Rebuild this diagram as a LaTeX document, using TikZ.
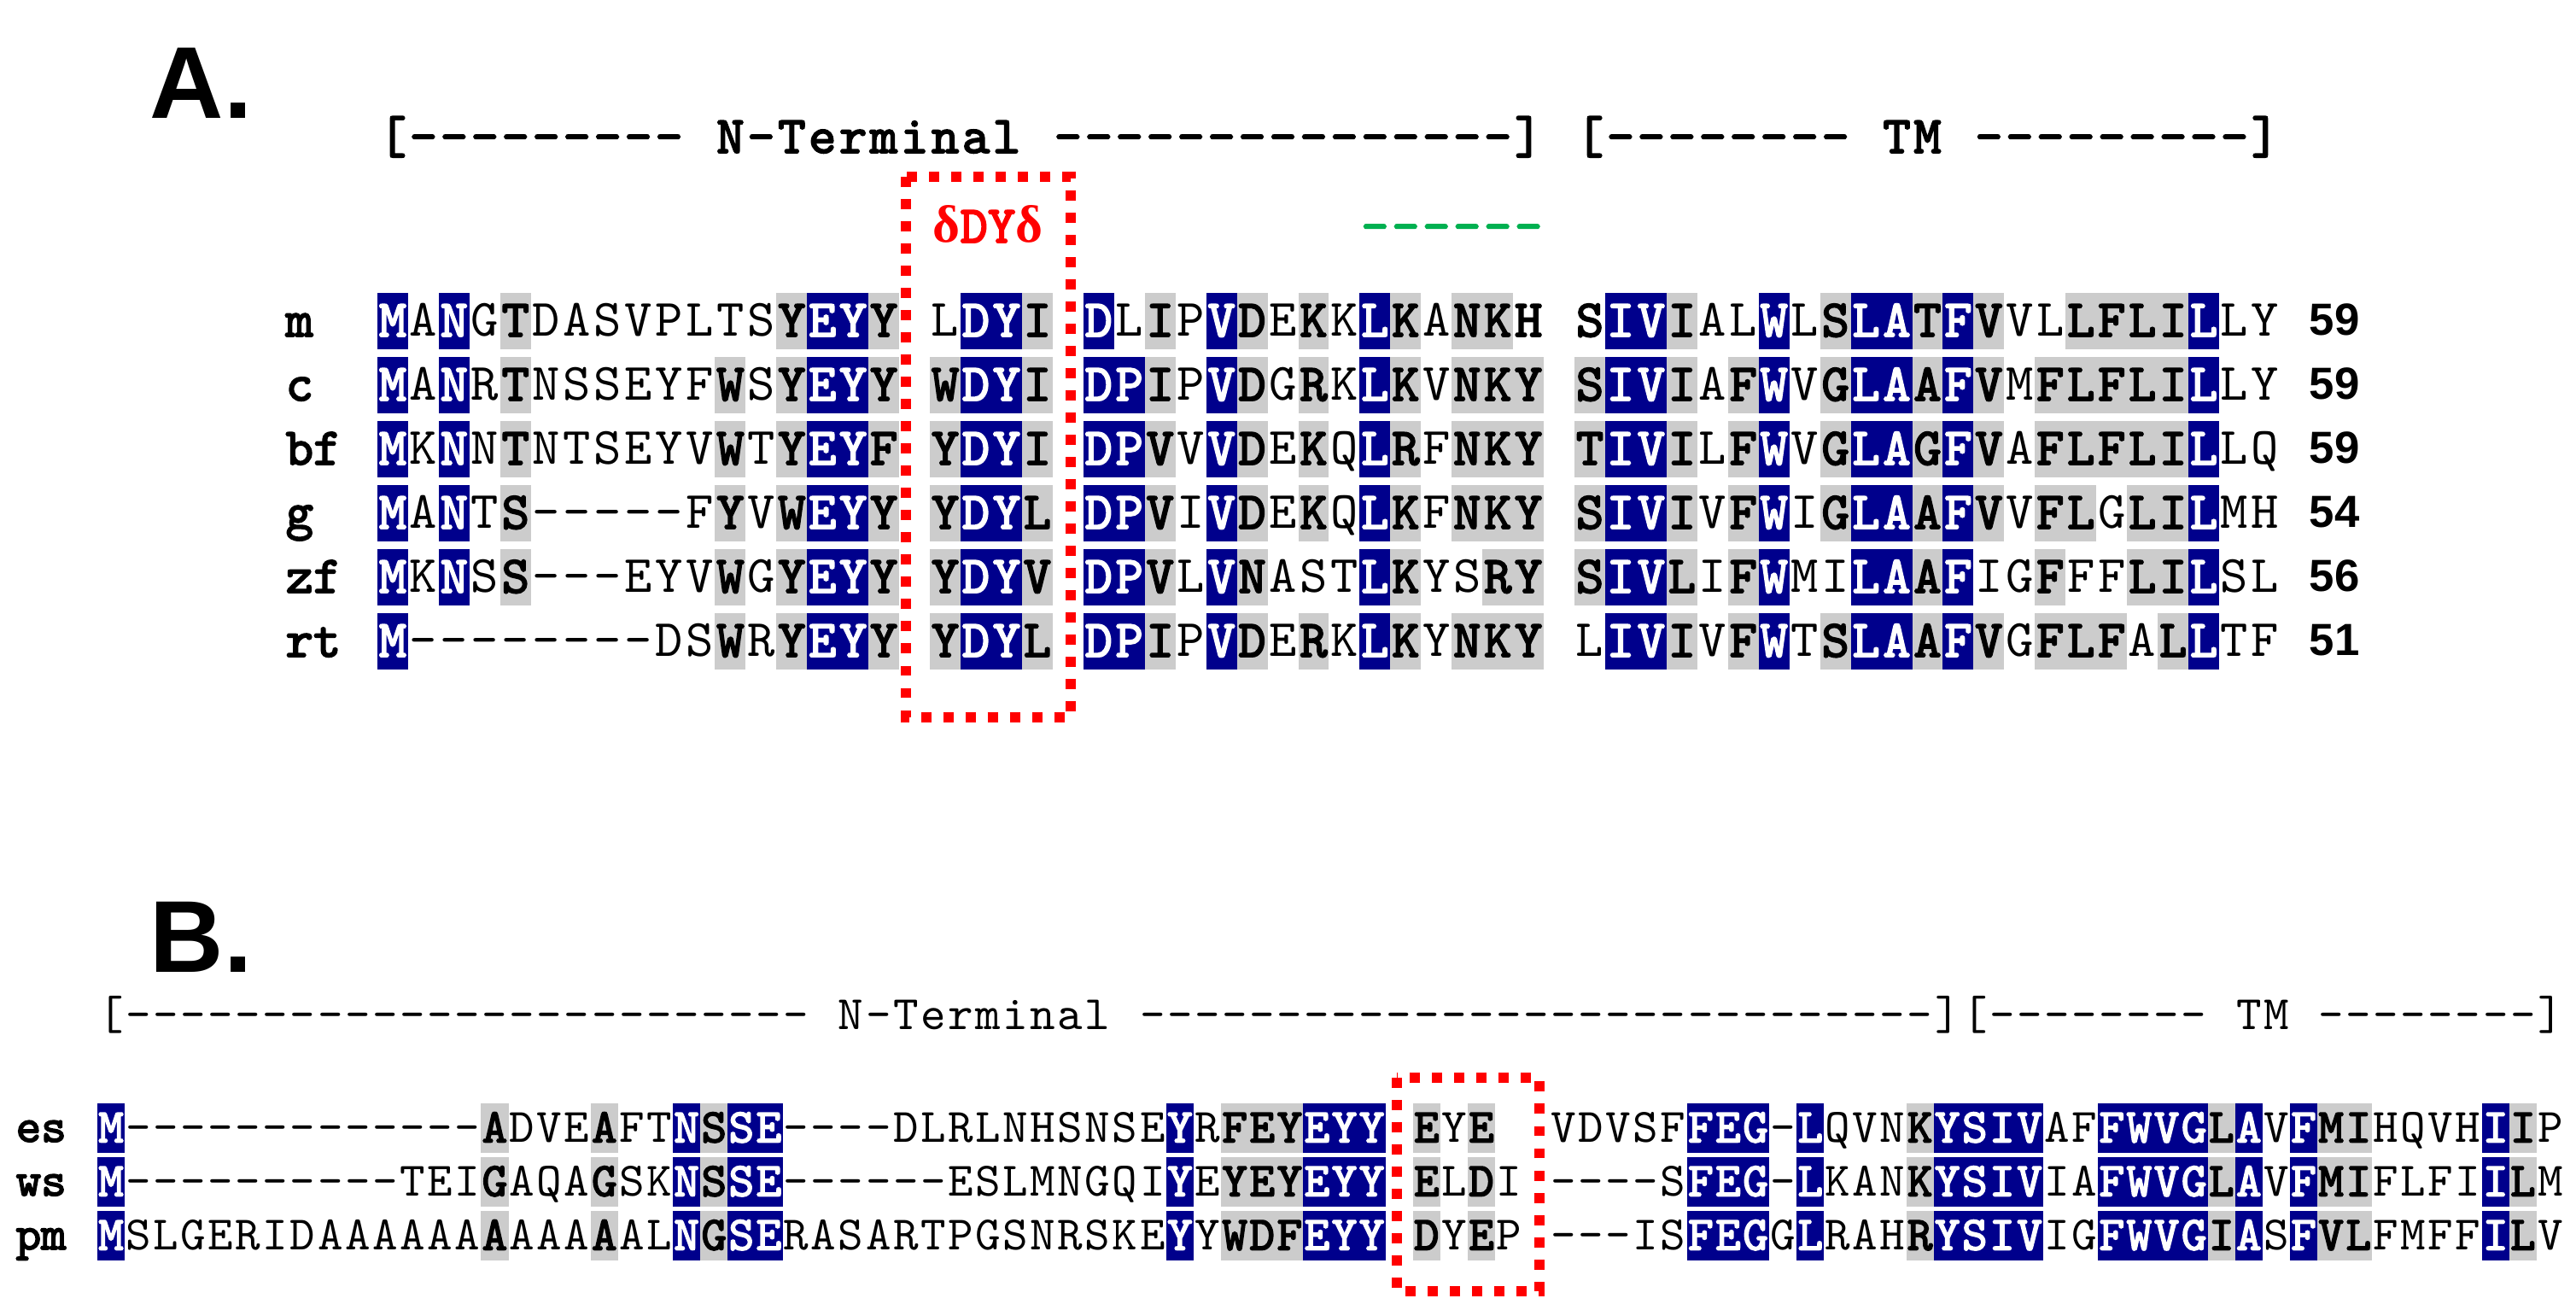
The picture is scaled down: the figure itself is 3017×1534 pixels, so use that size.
\documentclass[tikz,border=0pt]{standalone}
\usepackage{fontspec}
\newfontfamily\monof{lmmono10-regular}[Extension=.otf, BoldFont=lmmono10-regular, BoldFeatures={FakeBold=3}]
\newfontfamily\greekf{Liberation Serif}
\newfontfamily\sansf{Liberation Sans}
\definecolor{navyc}{RGB}{0,0,140}
\definecolor{grayc}{RGB}{204,204,204}
\definecolor{redc}{RGB}{255,0,0}
\definecolor{greenc}{RGB}{0,176,80}
\newcounter{cellno}
\tikzset{cellt/.style={inner sep=0pt, anchor=base},
  dotbox/.style={draw=redc, line width=3.4pt, dash pattern=on 3.4pt off 4pt},
  lbl/.style={inner sep=0pt, anchor=base west}}
\def\pitch{35.95}\def\halfh{33}\def\capoff{18}
\def\seqsize{\monof\fontsize{17.5}{17.5}\selectfont}
\def\hstyle{\bfseries}
\newcommand\mycell[4]{%
 \if x#1\relax\else
   \if B#1\fill[navyc] (#2,#3-\halfh) rectangle ++(\pitch,2*\halfh);\fi
   \if G#1\fill[grayc] (#2,#3-\halfh) rectangle ++(\pitch,2*\halfh);\fi
   \stepcounter{cellno}\edef\cname{cell\arabic{cellno}}%
   \node[cellt,name=\cname] at (#2+\pitch/2,#3+\capoff) {\seqsize\if B#1\color{white}\bfseries\fi\if G#1\bfseries\fi\if k#1\bfseries\fi #4};
 \fi}
\newcommand\hcell[3]{%
   \stepcounter{cellno}\edef\cname{cell\arabic{cellno}}%
   \node[cellt,name=\cname] at (#1+\pitch/2,#2+\capoff) {\seqsize\hstyle #3};}
\ExplSyntaxOn
\NewDocumentCommand\seqrow{mmmm}
 {
  \int_step_inline:nn { \str_count:n {#3} }
   {
    \use:x
     {
      \exp_not:N \mycell
       { \str_item:nn {#4} {##1} }
       { \fp_eval:n { #1 + (##1 - 1) * \pitch } }
       { #2 }
       { \str_item:nn {#3} {##1} }
     }
   }
 }
\NewDocumentCommand\textrow{mmm}
 {
  \int_step_inline:nn { \str_count:n {#3} }
   {
    \str_if_eq:eeF { \str_item:nn {#3} {##1} } { _ }
     {
      \use:x
       {
        \exp_not:N \hcell
         { \fp_eval:n { #1 + (##1 - 1) * \pitch } }
         { #2 }
         { \str_item:nn {#3} {##1} }
       }
     }
   }
 }
\ExplSyntaxOff
\begin{document}
\begin{tikzpicture}[x=0.01cm,y=-0.01cm]
\useasboundingbox (0,0) rectangle (3017,1534);
% panel labels
\node[lbl,font=\sansf\bfseries\fontsize{34}{34}\selectfont] (labA) at (175,139) {A.};
\node[lbl,font=\sansf\bfseries\fontsize{34}{34}\selectfont] (labB) at (175,1139) {B.};
% ===== Panel A =====
\textrow{442}{161}{[---------_N-Terminal_---------------]_[--------_TM_---------]}
\node[cellt,text=redc] (motif) at (1157,284) {\greekf\bfseries\fontsize{17.5}{17.5}\selectfont δ\monof\bfseries DY\greekf\bfseries δ};
{\def\hstyle{\bfseries\color{greenc}}\textrow{1592.4}{266}{------}}
\seqrow{442}{376}{MANGTDASVPLTSYEYY|LDYI|DLIPVDEKKLKANKH|SIVIALWLSLATFVVLLFLILLY}{B.B.G........GBBGx.BBGxB.G.BG.G.BG.GGkxkBBG..B.GBBGBG..GGGGB..}
\seqrow{442}{451}{MANRTNSSEYFWSYEYY|WDYI|DPIPVDGRKLKVNKY|SIVIAFWVGLAAFVMFLFLILLY}{B.B.G......G.GBBGxGBBGxBBG.BG.G.BG.GGGxGBBG.GB.GBBGBG.GGGGGB..}
\seqrow{442}{526}{MKNNTNTSEYVWTYEYF|YDYI|DPVVVDEKQLRFNKY|TIVILFWVGLAGFVAFLFLILLQ}{B.B.G......G.GBBGxGBBGxBBG.BG.G.BG.GGGxGBBG.GB.GBBGBG.GGGGGB..}
\seqrow{442}{601}{MANTS-----FYVWEYY|YDYL|DPVIVDEKQLKFNKY|SIVIVFWIGLAAFVVFLGLILMH}{B.B.G......G.GBBGxGBBGxBBG.BG.G.BG.GGGxGBBG.GB.GBBGBG.GG.GGB..}
\seqrow{442}{676}{MKNSS---EYVWGYEYY|YDYV|DPVLVNASTLKYSRY|SIVLIFWMILAAFIGFFFLILSL}{B.B.G......G.GBBGxGBBGxBBG.BG...BG..GGxGBBG.GB..BBGB..G..GGB..}
\seqrow{442}{751}{M--------DSWRYEYY|YDYL|DPIPVDERKLKYNKY|LIVIVFWTSLAAFVGFLFALLTF}{B..........G.GBBGxGBBGxBBG.BG.G.BG.GGGx.BBG.GB.GBBGBG.GGG.GB..}
\begin{scope}[every node/.style={lbl,font=\monof\bfseries\fontsize{17.5}{17.5}\selectfont}]
\node (lm) at (334,394) {m};
\node (lc) at (334,469) {c};
\node (lbf) at (334,544) {bf};
\node (lg) at (334,619) {g};
\node (lzf) at (334,694) {zf};
\node (lrt) at (334,769) {rt};
\end{scope}
\begin{scope}[every node/.style={lbl,font=\sansf\bfseries\fontsize{15}{15}\selectfont}]
\node (nm) at (2704,393) {59};
\node (nc) at (2704,468) {59};
\node (nbf) at (2704,543) {59};
\node (ng) at (2704,618) {54};
\node (nzf) at (2704,693) {56};
\node (nrt) at (2704,768) {51};
\end{scope}
\draw[dotbox] (1061,207) rectangle (1254,840);
% ===== Panel B =====
\def\pitch{32.1}\def\halfh{29}\def\capoff{16.5}
\def\seqsize{\monof\fontsize{16}{16}\selectfont}
{\def\hstyle{}\textrow{114}{1189}{[-------------------------_N-Terminal_-----------------------------][--------_TM_--------]}}
\seqrow{114}{1321}{M-------------ADVEAFTNSSE----DLRLNHSNSEYRFEYEYY|EYE||VDVSFFEG-LQVNKYSIVAFFWVGLAVFMIHQVHIIP}{B.............G...G..BGBB..............B.GGGBBBxG.Gxx.....BBB.B...GBBBB..BBBBGB.BGG....BG.}
\seqrow{114}{1384}{M----------TEIGAQAGSKNSSE------ESLMNGQIYEYEYEYY|ELDI|----SFEG-LKANKYSIVIAFWVGLAVFMIFLFIILM}{B.............G...G..BGBB..............B.GGGBBBxG.G.x.....BBB.B...GBBBB..BBBBGB.BGG....BG.}
\seqrow{114}{1447}{MSLGERIDAAAAAAAAAAAALNGSERASARTPGSNRSKEYYWDFEYY|DYEP|---ISFEGGLRAHRYSIVIGFWVGIASFVLFMFFILV}{B.............G...G..BGBB..............B.GGGBBBxG.G.x.....BBB.B...GBBBB..BBBBGB.BGG....BG.}
\begin{scope}[every node/.style={lbl,font=\monof\bfseries\fontsize{16}{16}\selectfont}]
\node (les) at (18,1337) {es};
\node (lws) at (18,1400) {ws};
\node (lpm) at (18,1463) {pm};
\end{scope}
\draw[dotbox] (1636,1262) rectangle (1803,1512);
\end{tikzpicture}
\end{document}
